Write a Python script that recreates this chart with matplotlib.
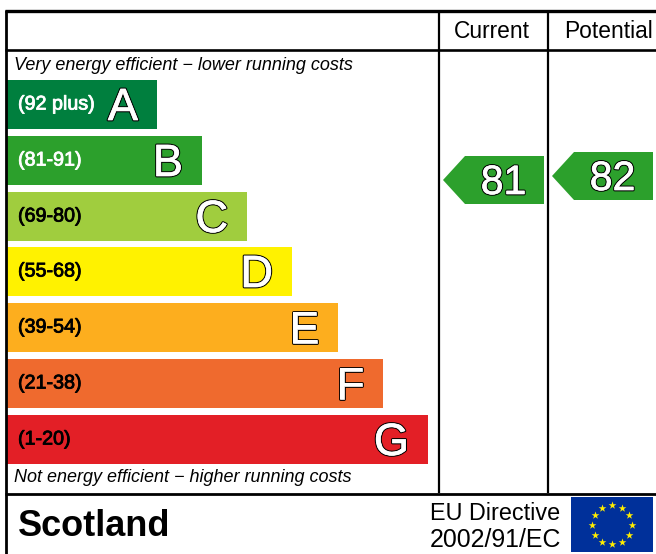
import matplotlib
matplotlib.use('Agg')
import matplotlib.pyplot as plt
import matplotlib.patheffects as pe
from matplotlib.patches import Polygon, Rectangle
import numpy as np

plt.rcParams['font.family'] = ['Liberation Sans', 'DejaVu Sans']

bands = ['A', 'B', 'C', 'D', 'E', 'F', 'G']
ranges = ['(92 plus)', '(81-91)', '(69-80)', '(55-68)', '(39-54)', '(21-38)', '(1-20)']
bar_right = [157, 202, 247, 292, 338, 383, 428]
bar_top = [80, 136, 192, 247, 303, 359, 415]
colors = ['#007f3e', '#2ca02c', '#a0cd3e', '#fff200', '#fdae1e', '#ef6a2e', '#e31f26']
range_colors = ['white', 'white', 'black', 'black', 'black', 'black', 'black']
current = 81
potential = 82

fig = plt.figure(figsize=(6.56, 5.54), dpi=100)
ax = fig.add_axes([0, 0, 1, 1])
ax.set_xlim(0, 656)
ax.set_ylim(554, 0)
ax.axis('off')

# white letters with a thin black edge
outline = [pe.Stroke(linewidth=2.0, foreground='black'),
           pe.Stroke(linewidth=0.5, foreground='white'),
           pe.Normal()]

# bars
for i in range(len(bands)):
    ax.add_patch(Rectangle((7, bar_top[i]), bar_right[i] - 7, 49, color=colors[i], lw=0))
    t = ax.text(18, bar_top[i] + 24, ranges[i], color=range_colors[i], fontsize=14.2,
                va='center', ha='left')
    t.set_path_effects([pe.Stroke(linewidth=0.6, foreground=range_colors[i]), pe.Normal()])
    t = ax.text(bar_right[i] - 19, bar_top[i] + 28.5, bands[i], color='white', fontsize=32.5,
                va='center', ha='right')
    t.set_path_effects(outline)

# frame
line = dict(color='black', lw=1.6, solid_capstyle='butt')
ax.plot([5, 656], [11, 11], **dict(line, lw=2.4))
ax.plot([5, 656], [50, 50], **dict(line, lw=1.9))
ax.plot([5, 656], [494, 494], **dict(line, lw=2.0))
ax.plot([6, 6], [10, 554], **dict(line, lw=2.0))
ax.plot([438.5, 438.5], [11, 493], **line)
ax.plot([548, 548], [11, 493], **line)

ax.text(492, 31, 'Current', fontsize=16.4, ha='center', va='center')
ax.text(609, 31, 'Potential', fontsize=16.4, ha='center', va='center')

ax.text(14, 66, 'Very energy efficient \u2212 lower running costs', fontsize=13,
        style='italic', ha='left', va='center')
ax.text(14, 478, 'Not energy efficient \u2212 higher running costs', fontsize=13,
        style='italic', ha='left', va='center')


def pointer(x, y, value):
    # x is the arrow tip, y the top of the box
    pts = [(x, y + 24), (x + 22, y), (x + 101, y), (x + 101, y + 48), (x + 22, y + 48)]
    ax.add_patch(Polygon(pts, closed=True, color='#2ca02c', lw=0))
    t = ax.text(x + 60.5, y + 27, str(value), color='white', fontsize=29.5, ha='center', va='center')
    t.set_path_effects(outline)


pointer(443, 156, current)
pointer(552, 152, potential)

# footer
ax.text(18, 526, 'Scotland', fontsize=26, fontweight='bold', ha='left', va='center')
ax.text(430, 514, 'EU Directive', fontsize=16.8, ha='left', va='center')
ax.text(430, 540, '2002/91/EC', fontsize=17.9, ha='left', va='center')

# EU flag
ax.add_patch(Rectangle((571, 497), 82, 55, color='#00309a', lw=0))
angles = np.deg2rad(np.arange(0, 360, 30))
ax.scatter(612 + 19.7 * np.cos(angles), 524.7 + 19.7 * np.sin(angles), marker='*', s=34,
           color='#ffed00', linewidths=0, zorder=3)

fig.savefig('out.png', dpi=100)
